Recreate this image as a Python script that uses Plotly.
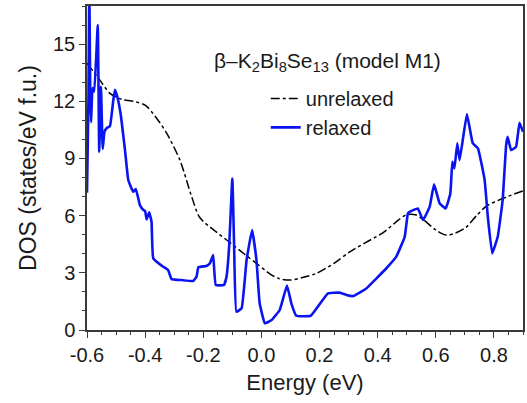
import plotly.graph_objects as go

relaxed_x = [-0.600, -0.595, -0.592, -0.589, -0.586, -0.581, -0.575, -0.563, -0.558, -0.552,
             -0.546, -0.540, -0.532, -0.521, -0.510, -0.504, -0.495, -0.483, -0.469, -0.458,
             -0.441, -0.432, -0.418, -0.406, -0.400, -0.395, -0.386, -0.378, -0.372, -0.338,
             -0.321, -0.309, -0.275, -0.235, -0.223, -0.217, -0.189, -0.177, -0.166, -0.157,
             -0.129, -0.120, -0.111, -0.100, -0.094, -0.086, -0.068, -0.051, -0.032, -0.017,
             -0.006, 0.012, 0.035, 0.063, 0.088, 0.103, 0.120, 0.170, 0.229, 0.269,
             0.292, 0.315, 0.361, 0.396, 0.430, 0.464, 0.493, 0.504, 0.510, 0.538,
             0.556, 0.579, 0.594, 0.613, 0.634, 0.650, 0.657, 0.664, 0.674, 0.682,
             0.707, 0.727, 0.745, 0.768, 0.779, 0.794, 0.813, 0.830, 0.842, 0.847,
             0.859, 0.876, 0.888, 0.900]
relaxed_y = [7.2, 12.0, 18.0, 12.7, 10.9, 12.7, 12.5, 16.0, 9.35, 12.76,
             9.5, 10.4, 10.6, 10.7, 12.0, 12.6, 12.2, 11.2, 9.4, 7.87,
             7.25, 7.4, 6.55, 6.3, 6.25, 5.8, 6.17, 5.68, 3.76, 3.32,
             3.15, 2.67, 2.62, 2.57, 2.8, 3.29, 3.36, 3.5, 3.93, 2.36,
             2.36, 2.8, 4.37, 7.95, 4.5, 0.96, 1.14, 3.67, 5.24, 3.67,
             1.4, 0.35, 0.52, 1.05, 2.33, 1.4, 0.75, 0.75, 1.92, 1.96,
             1.84, 1.78, 2.18, 2.71, 3.24, 3.85, 4.89, 6.12, 6.2, 6.38,
             5.77, 6.47, 7.64, 6.65, 6.38, 7.16, 8.82, 8.48, 9.8, 8.91,
             11.33, 9.8, 9.53, 7.87, 5.94, 4.02, 4.89, 6.82, 9.7, 10.14,
             9.44, 9.61, 10.87, 10.4]

unrelaxed_x = [-0.600, -0.560, -0.520, -0.480, -0.440, -0.400, -0.360, -0.325, -0.280, -0.240,
               -0.212, -0.160, -0.109, -0.060, -0.017, 0.029, 0.060, 0.098, 0.140, 0.189,
               0.250, 0.304, 0.360, 0.418, 0.470, 0.499, 0.530, 0.556, 0.600, 0.636,
               0.670, 0.705, 0.740, 0.774, 0.830, 0.900]
unrelaxed_y = [14.0, 13.2, 12.4, 12.1, 12.0, 11.8, 11.1, 10.3, 8.9, 7.0,
               5.9, 5.2, 4.6, 4.0, 3.5, 2.95, 2.7, 2.62, 2.75, 2.97,
               3.5, 4.1, 4.6, 5.1, 5.75, 6.05, 6.05, 5.8, 5.25, 4.98,
               5.1, 5.4, 6.0, 6.5, 6.9, 7.3]

x_ticks = [-0.6, -0.4, -0.2, 0.0, 0.2, 0.4, 0.6, 0.8]
x_tick_labels = ["-0.6", "-0.4", "-0.2", "0.0", "0.2", "0.4", "0.6", "0.8"]
y_ticks = [0, 3, 6, 9, 12, 15]

FONT = "Arial, Liberation Sans, sans-serif"
TXT = "#1a1a1a"
AX = "#3a3a3a"

fig = go.Figure()
fig.add_trace(go.Scatter(x=unrelaxed_x, y=unrelaxed_y, mode="lines", name="unrelaxed",
                         line=dict(color="black", width=1.5, dash="dashdot", shape="spline", smoothing=0.8)))
fig.add_trace(go.Scatter(x=relaxed_x, y=relaxed_y, mode="lines", name="relaxed",
                         line=dict(color="#0a14f0", width=2.6, shape="spline", smoothing=0.3)))

axis_common = dict(showline=True, linecolor=AX, linewidth=1.5, mirror=True,
                   ticks="outside", ticklen=6, tickwidth=1.2, tickcolor=AX,
                   showgrid=False, zeroline=False,
                   tickfont=dict(family=FONT, size=20, color=TXT))

fig.update_xaxes(range=[-0.6, 0.9], tickvals=x_ticks, ticktext=x_tick_labels,
                 title_text="Energy (eV)", title_standoff=10,
                 title_font=dict(family=FONT, size=22, color=TXT),
                 minor=dict(dtick=0.05, tick0=0, ticks="outside", ticklen=3, tickcolor=AX),
                 **axis_common)
fig.update_yaxes(range=[0, 17], tickvals=y_ticks,
                 title_text="DOS (states/eV f.u.)", title_standoff=10,
                 title_font=dict(family=FONT, size=23, color=TXT),
                 minor=dict(dtick=1, tick0=0, ticks="outside", ticklen=3, tickcolor=AX),
                 **axis_common)

fig.add_annotation(x=0.226, y=14.05, xref="x", yref="y", showarrow=False,
                   text="β–K<sub>2</sub>Bi<sub>8</sub>Se<sub>13</sub> (model M1)",
                   font=dict(family=FONT, size=21, color=TXT))

fig.update_layout(width=527, height=403, margin=dict(l=87, r=2, t=6, b=73),
                  plot_bgcolor="white", paper_bgcolor="white",
                  legend=dict(x=0.41, y=0.775, xanchor="left", yanchor="top",
                              bgcolor="rgba(0,0,0,0)", tracegroupgap=0,
                              font=dict(family=FONT, size=20, color=TXT)),
                  showlegend=True)

fig.write_html("out.html")
